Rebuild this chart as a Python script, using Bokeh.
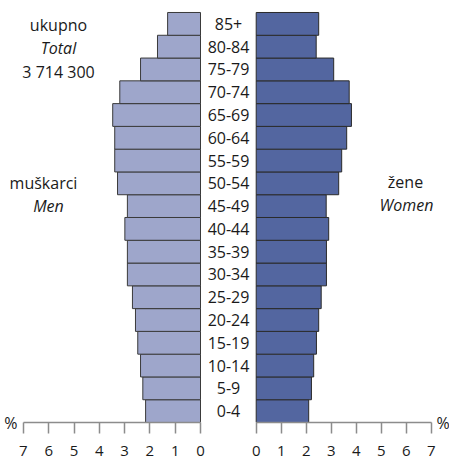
from bokeh.plotting import figure
from bokeh.layouts import row
from bokeh.models import Range1d, FixedTicker, Label, ColumnDataSource, LinearAxis
from bokeh.embed import file_html
from bokeh.resources import INLINE

ages = ["0-4", "5-9", "10-14", "15-19", "20-24", "25-29", "30-34", "35-39", "40-44",
        "45-49", "50-54", "55-59", "60-64", "65-69", "70-74", "75-79", "80-84", "85+"]
men = [2.17, 2.28, 2.37, 2.48, 2.57, 2.69, 2.89, 2.89, 2.99,
       2.89, 3.28, 3.39, 3.39, 3.47, 3.19, 2.37, 1.70, 1.30]
women = [2.10, 2.21, 2.30, 2.41, 2.50, 2.60, 2.81, 2.81, 2.90,
         2.80, 3.30, 3.42, 3.62, 3.81, 3.72, 3.10, 2.40, 2.50]
ticks = [0, 1, 2, 3, 4, 5, 6, 7]
total_lines = ["ukupno", "Total", "3 714 300"]
men_lines = ["muškarci", "Men"]
women_lines = ["žene", "Women"]
unit = "%"

FONT = "Open Sans"
TXT = "#1a1a1a"
ypos = [i + 0.5 for i in range(len(ages))]
src = ColumnDataSource(dict(y=ypos, men=men, women=women, age=ages))

FH = 422
ROW = 22.78
y_rng = Range1d(0, 18 + 12 / ROW)


# pixel helpers (canvas px -> data) for annotation placement
def lx(px):
    return (200 - px) / 25.3


def rx(px):
    return (px - 255.7) / 25.0


def ry(py):
    return 18 - (py - 12) / ROW


def base(fig):
    fig.min_border_left = 0
    fig.min_border_right = 0
    fig.min_border_top = 0
    fig.min_border_bottom = 0
    fig.outline_line_color = None
    fig.xgrid.visible = False
    fig.ygrid.visible = False
    fig.background_fill_color = None
    fig.border_fill_color = None
    return fig


def style_axis(ax):
    ax.ticker = FixedTicker(ticks=ticks)
    ax.bounds = (0, 7)
    ax.axis_line_color = "#8c8c8c"
    ax.axis_line_width = 1.5
    ax.major_tick_line_color = "#8c8c8c"
    ax.major_tick_line_width = 1.5
    ax.major_tick_out = 11
    ax.major_tick_in = 0
    ax.minor_tick_line_color = None
    ax.major_label_text_font = FONT
    ax.major_label_text_font_size = "15px"
    ax.major_label_text_color = TXT
    ax.major_label_standoff = 12


def unit_axis(standoff):
    ax = LinearAxis(ticker=FixedTicker(ticks=[0]), major_label_overrides={0: unit})
    ax.axis_line_color = None
    ax.major_tick_line_color = None
    ax.minor_tick_line_color = None
    ax.major_tick_out = 0
    ax.major_tick_in = 0
    ax.major_label_standoff = standoff
    ax.major_label_text_font = FONT
    ax.major_label_text_font_size = "16px"
    ax.major_label_text_color = TXT
    return ax


def label(fig, x, y, t, st="normal"):
    fig.add_layout(Label(x=x, y=y, text=t, text_align="center", text_baseline="middle",
                         text_font=FONT, text_font_size="16px", text_font_style=st,
                         text_color=TXT))


LW = 206
left = figure(frame_width=LW, frame_height=FH, output_backend="svg", toolbar_location=None,
              x_range=Range1d(lx(0), lx(LW)), y_range=y_rng, y_axis_location=None)
base(left)
left.hbar(y="y", left=0, right="men", height=1, source=src,
          fill_color="#9ea6cb", line_color="#3a3a3a", line_width=1)
style_axis(left.xaxis[0])
left.add_layout(unit_axis(-17), "left")

for t, py, st in zip(total_lines, [25, 48, 72], ["normal", "italic", "normal"]):
    label(left, lx(58), ry(py), t, st)
for t, px, py, st in zip(men_lines, [43, 48], [183, 206], ["normal", "italic"]):
    label(left, lx(px), ry(py), t, st)

MW = 44
mid = figure(frame_width=MW, frame_height=FH, output_backend="svg", toolbar_location=None,
             x_range=Range1d(0, 1), y_range=y_rng, x_axis_location=None, y_axis_location=None)
base(mid)
mid.text(x=0.5, y="y", text="age", source=src, text_align="center", text_baseline="middle",
         text_font={"value": FONT}, text_font_size="16px", text_color=TXT)

R0 = LW + MW
RB = 16
RW = 449 - R0 - RB
right = figure(frame_width=RW, frame_height=FH, output_backend="svg", toolbar_location=None,
               x_range=Range1d(rx(R0), rx(R0 + RW)), y_range=y_rng, y_axis_location=None)
base(right)
right.min_border_right = RB
right.hbar(y="y", left=0, right="women", height=1, source=src,
           fill_color="#5366a0", line_color="#2b2b2b", line_width=1)
style_axis(right.xaxis[0])
right.add_layout(unit_axis(3), "right")
for t, px, py, st in zip(women_lines, [405, 406], [182, 205], ["normal", "italic"]):
    label(right, rx(px), ry(py), t, st)

p = row(left, mid, right, spacing=0)
open("out.html", "w").write(file_html(p, INLINE))
